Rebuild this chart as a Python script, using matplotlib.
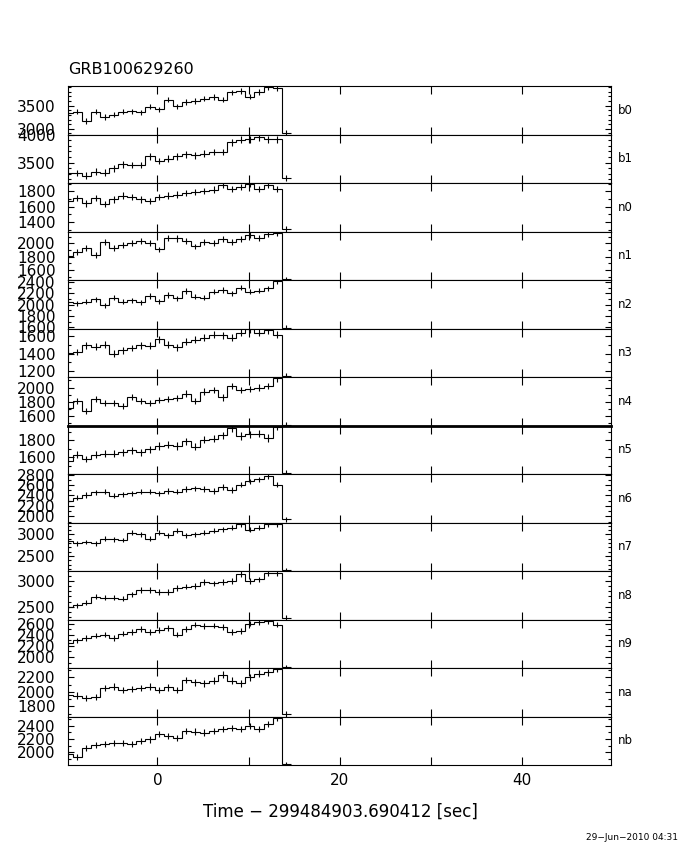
import matplotlib
matplotlib.use("Agg")
import matplotlib.pyplot as plt
import numpy as np
from matplotlib.ticker import MultipleLocator

# count rate per 1 s bin, last value is the partial bin after the data stop
names = ["b0", "b1", "n0", "n1", "n2", "n3", "n4", "n5", "n6", "n7", "n8", "n9", "na", "nb"]

b0 = [3338, 3368, 3169, 3368, 3257, 3302, 3368, 3375, 3353, 3478, 3419, 3632, 3485,
      3574, 3596, 3654, 3691, 3632, 3787, 3816, 3698, 3794, 3904, 3890, 2912]
b1 = [3318, 3306, 3265, 3335, 3318, 3394, 3465, 3453, 3453, 3612, 3524, 3571, 3612,
      3647, 3629, 3659, 3688, 3688, 3865, 3912, 3923, 3953, 3923, 3923, 3218]
n0 = [1671, 1714, 1641, 1714, 1637, 1693, 1744, 1723, 1693, 1671, 1723, 1744, 1757,
      1779, 1787, 1800, 1822, 1886, 1830, 1856, 1895, 1830, 1886, 1830, 1306]
n1 = [1815, 1875, 1935, 1825, 2015, 1935, 1975, 2010, 2035, 2000, 1910, 2085, 2075,
      2035, 1955, 2025, 2000, 2065, 2025, 2065, 2135, 2085, 2150, 2165, 1460]
n2 = [2038, 2020, 2050, 2092, 1991, 2121, 2050, 2080, 2038, 2151, 2062, 2169, 2109,
      2240, 2139, 2121, 2228, 2258, 2198, 2299, 2228, 2246, 2287, 2418, 1590]
n3 = [1411, 1419, 1494, 1476, 1502, 1400, 1438, 1464, 1494, 1487, 1562, 1502, 1472,
      1532, 1559, 1577, 1615, 1608, 1577, 1638, 1672, 1638, 1664, 1615, 1150]
n4 = [1715, 1816, 1669, 1839, 1779, 1779, 1747, 1871, 1807, 1779, 1825, 1839, 1853,
      1917, 1816, 1945, 1963, 1862, 2023, 1963, 1977, 2000, 2023, 2129, 1480]
n5 = [1558, 1633, 1579, 1633, 1642, 1642, 1662, 1683, 1662, 1696, 1733, 1746, 1733,
      1787, 1725, 1808, 1821, 1858, 1946, 1850, 1871, 1879, 1829, 1963, 1412]
n6 = [2298, 2360, 2409, 2459, 2471, 2397, 2422, 2440, 2471, 2471, 2440, 2484, 2471,
      2521, 2533, 2521, 2484, 2564, 2502, 2608, 2670, 2707, 2763, 2608, 1944]
n7 = [2846, 2792, 2823, 2792, 2900, 2885, 2869, 3039, 3000, 2900, 3039, 2977, 3077,
      2977, 3000, 3039, 3077, 3116, 3154, 3231, 3100, 3154, 3231, 3231, 2170]
n8 = [2500, 2526, 2578, 2695, 2676, 2676, 2656, 2740, 2825, 2825, 2786, 2786, 2870,
      2890, 2903, 2981, 2955, 2981, 3000, 3130, 3000, 3032, 3162, 3149, 2286]
n9 = [2252, 2300, 2342, 2384, 2402, 2342, 2420, 2444, 2504, 2444, 2480, 2522, 2402,
      2504, 2582, 2552, 2564, 2540, 2444, 2462, 2600, 2624, 2642, 2582, 1815]
na = [1963, 1950, 1918, 1927, 2054, 2073, 2027, 2041, 2054, 2073, 2027, 2064, 2027,
      2164, 2132, 2118, 2155, 2236, 2155, 2118, 2200, 2246, 2268, 2314, 1700]
nb = [1968, 1932, 2062, 2114, 2130, 2140, 2140, 2124, 2166, 2192, 2270, 2244, 2218,
      2322, 2312, 2296, 2322, 2348, 2364, 2348, 2400, 2348, 2426, 2520, 1815]

series = [b0, b1, n0, n1, n2, n3, n4, n5, n6, n7, n8, n9, na, nb]

y_ranges = [(2875, 3926), (3130, 4005), (1275, 1907), (1450, 2180), (1576, 2436),
            (1136, 1683), (1471, 2147), (1403, 1975), (1882, 2810), (2154, 3270),
            (2253, 3195), (1802, 2672), (1663, 2327), (1805, 2540)]
y_major = [500, 500, 200, 200, 200, 200, 200, 200, 200, 500, 500, 200, 200, 200]

bin_start = -10.27
bin_width = 0.996

fig = plt.figure(figsize=(6.8, 8.5), dpi=100)
left, right, top, bottom = 0.1, 0.8985, 0.8988, 0.1
h = (top - bottom) / len(names)

edges = bin_start + bin_width * np.arange(len(b0) + 1)
centers = 0.5 * (edges[:-1] + edges[1:])

for i, (name, vals) in enumerate(zip(names, series)):
    ax = fig.add_axes([left, top - (i + 1) * h, right - left, h])
    vals = np.asarray(vals, dtype=float)
    ax.stairs(vals, edges, baseline=None, color="black", lw=0.8)
    ax.errorbar(centers, vals, yerr=np.sqrt(vals / bin_width), fmt="none",
                ecolor="black", elinewidth=0.8, capsize=0)
    ax.set_xlim(-9.8, 49.75)
    ax.set_ylim(*y_ranges[i])
    ax.yaxis.set_major_locator(MultipleLocator(y_major[i]))
    ax.yaxis.set_minor_locator(MultipleLocator(100))
    ax.set_xticks([0, 10, 20, 30, 40])
    ax.tick_params(axis="both", which="both", direction="in", top=True, right=True,
                   width=0.8, labelsize=11)
    ax.tick_params(axis="y", which="major", length=4, pad=9)
    ax.tick_params(axis="y", which="minor", length=2.3)
    ax.tick_params(axis="x", which="major", length=5.5, pad=6)
    for sp in ax.spines.values():
        sp.set_linewidth(0.8)
    if name == "n5":
        ax.spines["top"].set_linewidth(2)
    if i < len(names) - 1:
        ax.set_xticklabels([])
    else:
        ax.set_xticklabels(["0", "", "20", "", "40"])
    ax.text(1.012, 0.5, name, transform=ax.transAxes, va="center", ha="left", fontsize=8.5)

fig.text(0.1, 1 - 70 / 850, "GRB100629260", fontsize=11.5, ha="left", va="center")
fig.text(0.5, 1 - 812 / 850, "Time \u2212 299484903.690412 [sec]", fontsize=12,
         ha="center", va="center")
fig.text(0.997, 1 - 838 / 850, "29\u2212Jun\u22122010 04:31", fontsize=6.5,
         ha="right", va="center")

fig.savefig("out.png", dpi=100)
